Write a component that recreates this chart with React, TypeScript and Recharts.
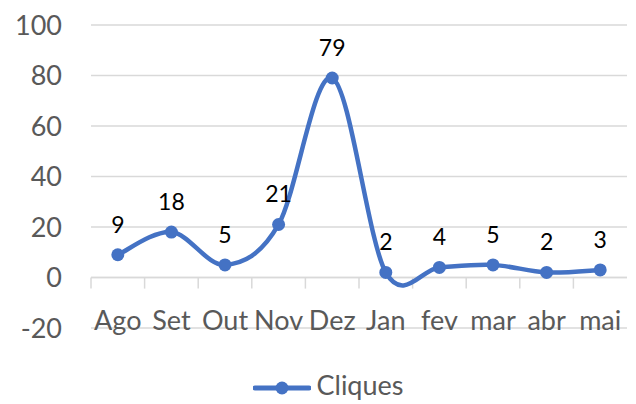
import { LineChart, Line, XAxis, YAxis, CartesianGrid, ReferenceLine, Legend, LabelList } from "recharts";

const months = ["Ago", "Set", "Out", "Nov", "Dez", "Jan", "fev", "mar", "abr", "mai"];
const cliques = [9, 18, 5, 21, 79, 2, 4, 5, 2, 3];
const yTicks = [-20, 0, 20, 40, 60, 80, 100];

const data = months.map((m, i) => ({ month: m, cliques: cliques[i] }));

const BLUE = "#4472C4";
const GRID = "#d9d9d9";
const TEXT = "#595959";
const FONT = "Lato, 'Open Sans', sans-serif";

// lissage façon Excel : bézier, points de contrôle à 1/6 de la corde voisine
function excelSmooth(context: any) {
  let pts: number[][] = [];
  return {
    areaStart() {},
    areaEnd() {},
    lineStart() { pts = []; },
    point(x: number, y: number) { pts.push([+x, +y]); },
    lineEnd() {
      if (!pts.length) return;
      context.moveTo(pts[0][0], pts[0][1]);
      for (let i = 0; i < pts.length - 1; i++) {
        const p0 = pts[i - 1] || pts[i];
        const p1 = pts[i];
        const p2 = pts[i + 1];
        const p3 = pts[i + 2] || p2;
        context.bezierCurveTo(
          p1[0] + (p2[0] - p0[0]) / 6, p1[1] + (p2[1] - p0[1]) / 6,
          p2[0] - (p3[0] - p1[0]) / 6, p2[1] - (p3[1] - p1[1]) / 6,
          p2[0], p2[1]
        );
      }
    },
  };
}

const XTick = ({ x, y, payload }: any) => (
  <text x={x} y={y} dy={2} textAnchor="middle" fill={TEXT} fontSize={27} fontFamily={FONT}>
    {payload.value}
  </text>
);

const LegendContent = ({ payload }: any) => (
  <div style={{ height: 40, display: "flex", justifyContent: "center", alignItems: "center", paddingLeft: 30 }}>
    {(payload || []).map((p: any) => (
      <div key={p.value} style={{ display: "flex", alignItems: "center" }}>
        <svg width={58} height={16} style={{ marginRight: 5, marginTop: 8 }}>
          <line x1={2} y1={8} x2={56} y2={8} stroke={BLUE} strokeWidth={5} strokeLinecap="round" />
          <circle cx={29} cy={8} r={6.5} fill={BLUE} />
        </svg>
        <span style={{ fontFamily: FONT, fontSize: 27, color: TEXT }}>{p.value}</span>
      </div>
    ))}
  </div>
);

export default function App() {
  const last = months[months.length - 1];
  return (
    <div style={{ position: "absolute", left: 0, top: 0 }}>
      <LineChart width={636} height={404} data={data} margin={{ top: 25, right: 9, left: 0, bottom: 0 }}>
        <CartesianGrid vertical={false} stroke={GRID} strokeWidth={1.5} />
        <XAxis
          dataKey="month"
          scale="band"
          interval={0}
          axisLine={false}
          tickLine={false}
          tickSize={0}
          tickMargin={0}
          height={36}
          tick={<XTick />}
        />
        <YAxis
          domain={[-20, 100]}
          ticks={yTicks}
          width={91}
          axisLine={false}
          tickLine={false}
          tickSize={0}
          tickMargin={29}
          tick={{ fontSize: 27, fill: TEXT, fontFamily: FONT }}
        />
        <ReferenceLine y={0} stroke={GRID} strokeWidth={1.5} />
        {months.map((m) => (
          <ReferenceLine key={m} segment={[{ x: m, y: 0 }, { x: m, y: -4.4 }]} position="start" stroke={GRID} strokeWidth={1.5} />
        ))}
        <ReferenceLine segment={[{ x: last, y: 0 }, { x: last, y: -4.4 }]} position="end" stroke={GRID} strokeWidth={1.5} />
        <Legend verticalAlign="bottom" height={40} content={<LegendContent />} />
        <Line
          dataKey="cliques"
          name="Cliques"
          type={excelSmooth as any}
          stroke={BLUE}
          strokeWidth={4.5}
          dot={{ r: 6.5, fill: BLUE, stroke: BLUE, strokeWidth: 0 }}
          activeDot={false}
          isAnimationActive={false}
        >
          <LabelList dataKey="cliques" position="top" offset={22} fill="#000" fontSize={23} fontFamily={FONT} />
        </Line>
      </LineChart>
    </div>
  );
}
